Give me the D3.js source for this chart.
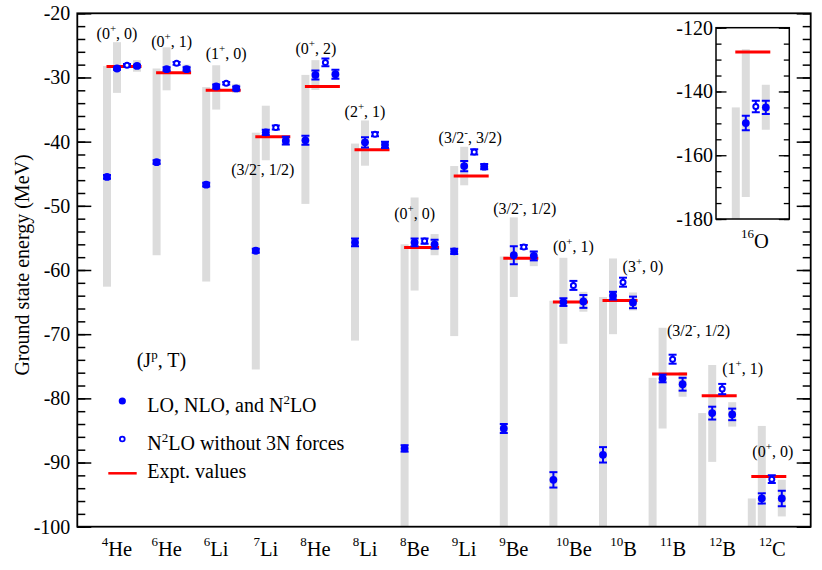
<!DOCTYPE html>
<html>
<head>
<meta charset="utf-8">
<script src="https://cdn.jsdelivr.net/npm/d3@7"></script>
<style>
  body { margin: 0; background: #fff; }
  text { font-family: "Liberation Serif", "Times New Roman", serif; fill: #000; }
</style>
</head>
<body>
<svg id="mainSvg" width="822" height="570"></svg>
<script>
// nuclei on the x axis
var massNumber = [4, 6, 6, 7, 8, 8, 8, 9, 9, 10, 10, 11, 12, 12];
var element    = ["He", "He", "Li", "Li", "He", "Li", "Be", "Li", "Be", "Be", "B", "B", "B", "C"];
var spinParity = ["0+", "0+", "1+", "3/2-", "0+", "2+", "0+", "3/2-", "3/2-", "0+", "3+", "3/2-", "1+", "0+"];
var isospin    = ["0", "1", "0", "1/2", "2", "1", "0", "3/2", "1/2", "1", "0", "1/2", "1", "0"];

// experimental ground state energies (MeV)
var expt = [-28.30, -29.27, -31.99, -39.24, -31.41, -41.28, -56.50, -45.34, -58.17, -64.98, -64.75, -76.21, -79.58, -92.16];

// LO (null = off the scale)
var lo       = [-45.5, -43.2, -46.7, -57.0, -39.8, -55.7, -87.8, -57.1, -84.7, -92.7, -88.8, null, null, null];
var loErr    = [0.3, 0.3, 0.3, 0.3, 0.7, 0.6, 0.5, 0.4, 0.7, 1.2, 1.2, null, null, null];
var loTop    = [-28.2, -28.6, -31.5, -38.6, -29.6, -40.3, -56.0, -43.8, -57.9, -64.8, -64.2, -76.8, -82.3, -95.6];
var loBottom = [-62.6, -57.7, -61.8, -75.5, -49.7, -71.0, -120, -70.3, -120, -120, -120, -120, -120, -120];

// NLO
var nlo       = [-28.6, -28.7, -31.4, -38.55, -29.6, -40.1, -55.7, -43.8, -57.7, -65.0, -64.0, -76.9, -82.3, -95.6];
var nloErr    = [0.2, 0.3, 0.3, 0.4, 0.7, 0.8, 0.6, 0.8, 1.4, 0.6, 0.6, 0.6, 1.0, 0.8];
var nloTop    = [-24.5, -25.3, -28.1, -34.4, -27.3, -36.7, -48.7, -40.8, -51.8, -58.1, -58.2, -69.0, -74.8, -84.3];
var nloBottom = [-32.4, -32.0, -35.0, -42.9, -31.95, -43.75, -63.2, -46.8, -64.2, -71.5, -70.0, -84.7, -89.9, -120];

// N2LO without 3N forces
var no3N    = [-28.1, -27.8, -30.9, -37.8, -27.65, -38.85, -55.5, -41.6, -56.4, -62.4, -61.9, -73.9, -78.55, -92.6];
var no3NErr = [0.2, 0.2, 0.2, 0.3, 0.6, 0.3, 0.4, 0.4, 0.3, 0.7, 0.7, 0.7, 0.8, 0.6];

// N2LO
var n2lo       = [-28.2, -28.7, -31.7, -39.85, -29.5, -40.5, -56.0, -43.9, -57.8, -64.9, -65.05, -77.8, -82.5, -95.6];
var n2loErr    = [0.2, 0.3, 0.3, 0.6, 0.7, 0.5, 0.7, 0.4, 0.7, 1.0, 0.9, 1.0, 0.9, 1.2];
var n2loTop    = [-27.3, -28.0, -31.0, -39.3, -29.0, -40.0, -54.4, -43.5, -57.0, -63.4, -63.5, -75.9, -80.6, -92.7];
var n2loBottom = [-29.1, -29.5, -32.4, -40.6, -30.0, -41.0, -57.7, -44.3, -59.4, -66.5, -66.3, -79.75, -84.4, -98.4];

// 16O (inset)
var oxygen = {
  expt: -127.62,
  lo: null, loErr: null, loTop: -145.0, loBottom: -200,
  nlo: -149.9, nloErr: 2.3, nloTop: -126.75, nloBottom: -173.1,
  no3N: -144.7, no3NErr: 1.8,
  n2lo: -145.0, n2loErr: 2.1, n2loTop: -137.9, n2loBottom: -152.0
};

var yTicksMain  = [-100, -90, -80, -70, -60, -50, -40, -30, -20];
var yTicksInset = [-180, -160, -140, -120];

// where the (J^p, T) tags sit: [shift in point slots, energy in MeV]
var tagAt = [[1.0, -23.1], [1.5, -24.4], [2.0, -26.2], [0.7, -44.4], [1.05, -25.45], [1.0, -35.3], [1.0, -51.2],
             [1.6, -39.3], [2.1, -50.4], [2.0, -56.4], [4.0, -59.4], [4.6, -69.35], [4.05, -75.4], [2.1, -88.3]];

var names = massNumber.map(function(m, i) { return m + element[i]; });

var blue = "#0000ff", red = "#ff0000", gray = "#dcdcdc";
var slot = 10;
var plainNum = function(d) { return String(d); };   // hyphen minus, like the original

var margin = {top: 13.3, right: 11.3, bottom: 43.3, left: 77.3},
    width = 822 - margin.left - margin.right,
    height = 570 - margin.top - margin.bottom;

var x = d3.scalePoint().domain(names).range([29.7, 674.5]);
var y = d3.scaleLinear().domain([-100, -20]).range([height, 0]);

var svg = d3.select("#mainSvg");
var g = svg.append("g").attr("transform", "translate(" + margin.left + "," + margin.top + ")");

g.append("clipPath").attr("id", "clipMain")
  .append("rect").attr("width", width).attr("height", height);

var plot = g.append("g").attr("clip-path", "url(#clipMain)");

function rows(vals, errs, tops, bottoms) {
  return names.map(function(n, i) {
    return {name: n, v: vals ? vals[i] : null, e: errs ? errs[i] : null,
            top: tops ? tops[i] : null, bottom: bottoms ? bottoms[i] : null};
  });
}

var series = [
  {key: "lo",   dx: 0, open: false, data: rows(lo, loErr, loTop, loBottom)},
  {key: "nlo",  dx: 1, open: false, data: rows(nlo, nloErr, nloTop, nloBottom)},
  {key: "no3N", dx: 2, open: true,  data: rows(no3N, no3NErr, null, null)},
  {key: "n2lo", dx: 3, open: false, data: rows(n2lo, n2loErr, n2loTop, n2loBottom)}
];

function drawBands(layer, xs, ys, s, data) {
  layer.selectAll(".band_" + s.key)
    .data(data.filter(function(d) { return d.top != null; }))
    .enter().append("rect")
    .attr("class", "band_" + s.key)
    .attr("x", function(d) { return xs(d.name) + s.dx * slot - 4; })
    .attr("width", 8)
    .attr("y", function(d) { return ys(d.top); })
    .attr("height", function(d) { return ys(d.bottom) - ys(d.top); })
    .attr("fill", gray);
}

function drawExpt(layer, xs, ys, data) {
  layer.selectAll(".expt")
    .data(data)
    .enter().append("line")
    .attr("class", "expt")
    .attr("x1", function(d) { return xs(d.name) - 0.5; })
    .attr("x2", function(d) { return xs(d.name) + 34.5; })
    .attr("y1", function(d) { return ys(d.v); })
    .attr("y2", function(d) { return ys(d.v); })
    .attr("stroke", red).attr("stroke-width", 3);
}

function drawPoints(layer, xs, ys, s, data) {
  var pts = data.filter(function(d) { return d.v != null; });
  var grp = layer.selectAll(".pt_" + s.key).data(pts).enter().append("g")
    .attr("class", "pt_" + s.key)
    .attr("transform", function(d) { return "translate(" + (xs(d.name) + s.dx * slot) + ",0)"; });
  grp.append("line")
    .attr("y1", function(d) { return ys(d.v + d.e); })
    .attr("y2", function(d) { return ys(d.v - d.e); })
    .attr("stroke", blue).attr("stroke-width", 2);
  [1, -1].forEach(function(sg) {
    grp.append("line")
      .attr("x1", -4).attr("x2", 4)
      .attr("y1", function(d) { return ys(d.v + sg * d.e); })
      .attr("y2", function(d) { return ys(d.v + sg * d.e); })
      .attr("stroke", blue).attr("stroke-width", 2);
  });
  grp.append("circle")
    .attr("cy", function(d) { return ys(d.v); })
    .attr("r", s.open ? 2.5 : 3.9)
    .attr("fill", s.open ? "#fff" : blue)
    .attr("stroke", blue).attr("stroke-width", s.open ? 2 : 0);
}

series.forEach(function(s) { drawBands(plot, x, y, s, s.data); });
drawExpt(plot, x, y, rows(expt));
series.forEach(function(s) { drawPoints(plot, x, y, s, s.data); });

// axes
g.append("g").call(d3.axisLeft(y).tickValues(d3.range(-100, -19, 2)).tickSize(-8).tickFormat(""));
g.append("g").call(d3.axisLeft(y).tickValues(yTicksMain).tickSize(-14).tickPadding(7).tickFormat(plainNum))
  .selectAll("text").style("font-size", "20px");
g.append("g").attr("transform", "translate(" + width + ",0)")
  .call(d3.axisRight(y).tickValues(d3.range(-100, -19, 2)).tickSize(-8).tickFormat(""));
g.append("g").attr("transform", "translate(" + width + ",0)")
  .call(d3.axisRight(y).tickValues(yTicksMain).tickSize(-14).tickFormat(""));
g.selectAll(".domain").remove();
g.selectAll(".tick line").attr("stroke-width", 1.5);
g.append("rect").attr("width", width).attr("height", height)
  .attr("fill", "none").attr("stroke", "#000").attr("stroke-width", 1.8);

// nucleus labels
function nucleusLabel(layer, cx, base, m, el) {
  var t = layer.append("text").attr("x", cx).attr("y", base).attr("text-anchor", "middle");
  t.append("tspan").attr("font-size", "13px").attr("dy", -10).text(m);
  t.append("tspan").attr("font-size", "20.5px").attr("dy", 10).text(el);
}
names.forEach(function(n, i) {
  nucleusLabel(g, x(n) + 10 + (massNumber[i] >= 10 ? 10.5 : 0), height + 29.5, massNumber[i], element[i]);
});

// (J^p, T) tags
names.forEach(function(n, i) {
  var jp = spinParity[i];
  var t = g.append("text")
    .attr("x", x(n) + tagAt[i][0] * slot)
    .attr("y", y(tagAt[i][1]) + 5.5)
    .attr("text-anchor", "middle").style("font-size", "16px");
  t.append("tspan").text("(" + jp.slice(0, -1));
  t.append("tspan").attr("font-size", "11px").attr("dy", -7).text(jp.slice(-1) === "-" ? "-" : "+");
  t.append("tspan").attr("dy", 7).text(", " + isospin[i] + ")");
});

// legend
var leg = svg.append("g");
var jt = leg.append("text").attr("x", 136.7).attr("y", 367.3).style("font-size", "20px");
jt.append("tspan").text("(J");
jt.append("tspan").attr("font-size", "13px").attr("dy", -8).text("p");
jt.append("tspan").attr("dy", 8).text(", T)");
leg.append("circle").attr("cx", 122.3).attr("cy", 401).attr("r", 3.6).attr("fill", blue);
var l1 = leg.append("text").attr("x", 147.3).attr("y", 411.7).style("font-size", "20px");
l1.append("tspan").text("LO, NLO, and N");
l1.append("tspan").attr("font-size", "13px").attr("dy", -8).text("2");
l1.append("tspan").attr("dy", 8).text("LO");
leg.append("circle").attr("cx", 122.3).attr("cy", 439).attr("r", 2.4)
  .attr("fill", "#fff").attr("stroke", blue).attr("stroke-width", 1.8);
var l2 = leg.append("text").attr("x", 147.3).attr("y", 450).style("font-size", "20px");
l2.append("tspan").text("N");
l2.append("tspan").attr("font-size", "13px").attr("dy", -8).text("2");
l2.append("tspan").attr("dy", 8).text("LO without 3N forces");
leg.append("line").attr("x1", 108.3).attr("x2", 136.7).attr("y1", 473.3).attr("y2", 473.3)
  .attr("stroke", red).attr("stroke-width", 2.5);
leg.append("text").attr("x", 147.3).attr("y", 478.3).style("font-size", "20px").text("Expt. values");

// y axis title
svg.append("text")
  .attr("transform", "translate(29,265) rotate(-90)")
  .attr("text-anchor", "middle").style("font-size", "20px")
  .text("Ground state energy (MeV)");

// inset: 16O
var inset = {left: 716, top: 27.7, width: 73.3, height: 191.3};
var xIn = d3.scalePoint().domain(["16O"]).range([0, 39.6]);
var yIn = d3.scaleLinear().domain([-180, -120]).range([inset.height, 0]);
var gi = svg.append("g").attr("transform", "translate(" + inset.left + "," + inset.top + ")");
gi.append("rect").attr("width", inset.width).attr("height", inset.height).attr("fill", "#fff");
gi.append("clipPath").attr("id", "clipInset")
  .append("rect").attr("width", inset.width).attr("height", inset.height);
var iplot = gi.append("g").attr("clip-path", "url(#clipInset)");

var oRow = function(v, e, t, b) { return [{name: "16O", v: v, e: e, top: t, bottom: b}]; };
var insetSeries = [
  {key: "lo",   dx: 0, open: false, data: oRow(oxygen.lo, oxygen.loErr, oxygen.loTop, oxygen.loBottom)},
  {key: "nlo",  dx: 1, open: false, data: oRow(oxygen.nlo, oxygen.nloErr, oxygen.nloTop, oxygen.nloBottom)},
  {key: "no3N", dx: 2, open: true,  data: oRow(oxygen.no3N, oxygen.no3NErr, null, null)},
  {key: "n2lo", dx: 3, open: false, data: oRow(oxygen.n2lo, oxygen.n2loErr, oxygen.n2loTop, oxygen.n2loBottom)}
];
insetSeries.forEach(function(s) { drawBands(iplot, xIn, yIn, s, s.data); });
drawExpt(iplot, xIn, yIn, oRow(oxygen.expt));
insetSeries.forEach(function(s) { drawPoints(iplot, xIn, yIn, s, s.data); });

gi.append("g").call(d3.axisLeft(yIn).tickValues(d3.range(-180, -119, 5)).tickSize(-5.5).tickFormat(""));
gi.append("g").call(d3.axisLeft(yIn).tickValues(yTicksInset).tickSize(-10.5).tickPadding(3).tickFormat(plainNum))
  .selectAll("text").style("font-size", "20px");
gi.append("g").attr("transform", "translate(" + inset.width + ",0)")
  .call(d3.axisRight(yIn).tickValues(d3.range(-180, -119, 5)).tickSize(-5.5).tickFormat(""));
gi.append("g").attr("transform", "translate(" + inset.width + ",0)")
  .call(d3.axisRight(yIn).tickValues(yTicksInset).tickSize(-10.5).tickFormat(""));
gi.selectAll(".domain").remove();
gi.selectAll(".tick line").attr("stroke-width", 1.3);
gi.append("rect").attr("width", inset.width).attr("height", inset.height)
  .attr("fill", "none").attr("stroke", "#000").attr("stroke-width", 1.5);
nucleusLabel(gi, xIn("16O") + 19.2, inset.height + 29, 16, "O");
</script>
</body>
</html>
